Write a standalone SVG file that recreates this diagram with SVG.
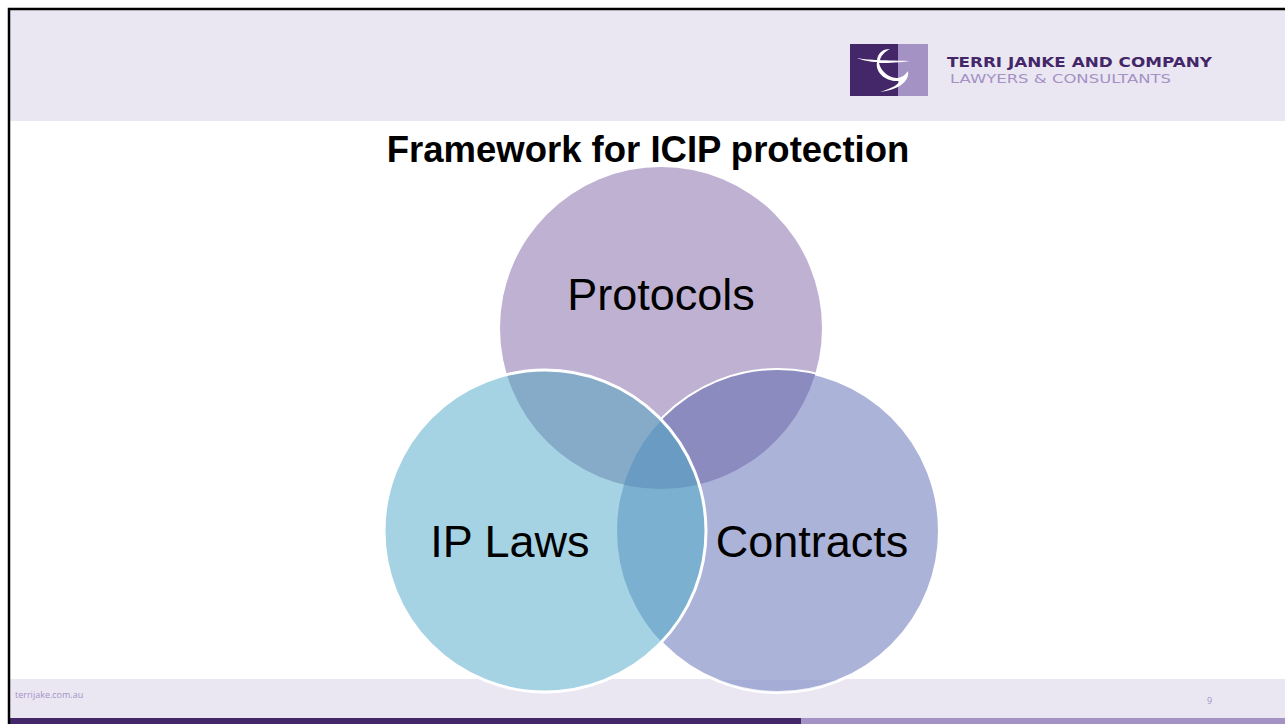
<svg xmlns="http://www.w3.org/2000/svg" width="1285" height="724" viewBox="0 0 1285 724">
<style>
.t{font-family:"Liberation Sans",Arial,sans-serif;fill:#000}
.lbl{font-size:45px;text-anchor:middle}
.ov{stroke:none}
</style>
<defs>
<clipPath id="cT"><circle cx="661" cy="328" r="161"/></clipPath>
<clipPath id="cL"><circle cx="545" cy="531" r="161"/></clipPath>
<clipPath id="cR"><circle cx="778" cy="531" r="161"/></clipPath>
</defs>
<rect width="1285" height="724" fill="#fff"/>
<rect x="9" y="9" width="1276" height="112" fill="#EAE7F3"/>
<rect x="9" y="679" width="1276" height="39" fill="#EAE7F3"/>
<rect x="9" y="718" width="792" height="6" fill="#432768"/>
<rect x="801" y="718" width="484" height="6" fill="#A592C5"/>
<path d="M9 724V9H1285" fill="none" stroke="#000" stroke-width="2.5"/>
<g id="logo">
<rect x="850" y="44" width="48" height="52" fill="#432768"/>
<rect x="898" y="44" width="30" height="52" fill="#A592C5"/>
<path d="M857 58C868 60 878 60 910 61C895 63 885 63 879 63C881 72 890 78 897 78C902 78 906 74 908 71C910 82 897 90 880 92C893 88 899 84 899 81C885 82 875 72 877 62C870 62 862 60 857 58ZM877 60C878 52 884 49 890 49C884 52 881 56 880 60Z" fill="#fff"/>
<text x="947" y="67" font-family="'DejaVu Sans',sans-serif" font-size="13.5" font-weight="bold" fill="#432768" textLength="265" lengthAdjust="spacingAndGlyphs">TERRI JANKE AND COMPANY</text>
<text x="950" y="83" font-family="'DejaVu Sans',sans-serif" font-size="12" fill="#A592C5" textLength="221" lengthAdjust="spacingAndGlyphs">LAWYERS &amp; CONSULTANTS</text>
</g>
<text class="t" x="648" y="162" font-size="36.5" font-weight="bold" text-anchor="middle">Framework for ICIP protection</text>
<g id="circle-protocols"><circle cx="661" cy="328" r="161" fill="#BFB1D2"/></g>
<g id="circle-contracts"><circle cx="778" cy="531" r="161.5" fill="#ABB3D9" stroke="#fff" stroke-width="3"/></g>
<g id="circle-iplaws"><circle cx="545" cy="531" r="161" fill="#A5D3E3"/></g>
<g id="overlaps">
<g clip-path="url(#cT)"><circle class="ov" cx="778" cy="531" r="161" fill="#8C8BC0"/><circle class="ov" cx="545" cy="531" r="161" fill="#85ABC8"/></g>
<g clip-path="url(#cL)"><circle class="ov" cx="778" cy="531" r="161" fill="#7BB0D0" stroke="#A5D3E3" stroke-width="2"/></g>
<g clip-path="url(#cT)"><g clip-path="url(#cL)"><circle class="ov" cx="778" cy="531" r="161" fill="#6A9CC3"/></g></g>
<rect x="480" y="680" width="400" height="14" fill="#7D86C8" opacity=".12" clip-path="url(#cR)"/>
<circle cx="545" cy="531" r="161" fill="none" stroke="#fff" stroke-width="3"/>
</g>
<text class="t lbl" x="661" y="310">Protocols</text>
<text class="t lbl" x="510" y="557">IP Laws</text>
<text class="t lbl" x="812" y="557">Contracts</text>
<text x="15" y="698" font-family="'Open Sans',sans-serif" font-size="9" fill="#A592C5">terrijake.com.au</text>
<text x="1207" y="704" font-family="'Open Sans',sans-serif" font-size="9" fill="#A592C5">9</text>
</svg>
